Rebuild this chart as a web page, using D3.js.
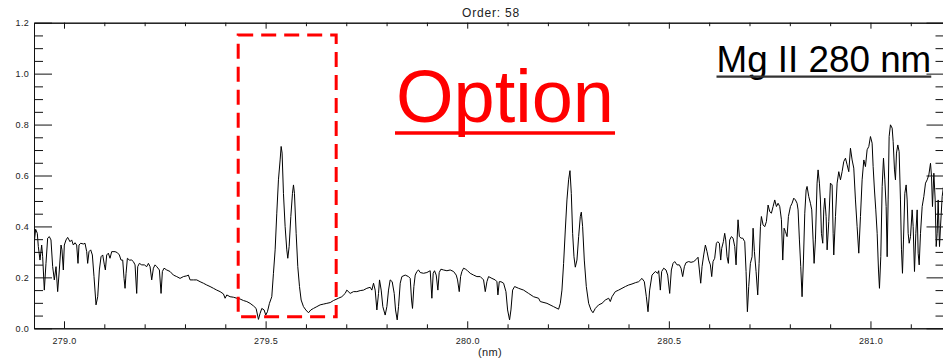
<!DOCTYPE html>
<html>
<head>
<meta charset="utf-8">
<script src="https://cdn.jsdelivr.net/npm/d3@7"></script>
<style>
  html, body { margin: 0; padding: 0; background: #fff; }
  svg { display: block; }
  text { font-family: "Liberation Sans", Arial, Helvetica, sans-serif; }
</style>
</head>
<body>
<svg id="chart" width="943" height="361"></svg>
<script>
// Echelle order 58 around the Mg II h & k lines: wavelength (nm) and relative flux
const wavelength = [
  278.9264, 278.9297, 278.9338, 278.9363, 278.9405, 278.9446, 278.9471, 278.9512, 278.9553, 278.9595,
  278.9636, 278.9677, 278.9719, 278.9760, 278.9802, 278.9843, 278.9884, 278.9926, 278.9950, 278.9983,
  279.0008, 279.0050, 279.0091, 279.0149, 279.0190, 279.0232, 279.0273, 279.0314, 279.0347, 279.0372,
  279.0414, 279.0480, 279.0521, 279.0563, 279.0587, 279.0620, 279.0662, 279.0703, 279.0744, 279.0794,
  279.0836, 279.0877, 279.0918, 279.0960, 279.1001, 279.1026, 279.1059, 279.1100, 279.1141, 279.1183,
  279.1266, 279.1323, 279.1373, 279.1414, 279.1456, 279.1489, 279.1514, 279.1539, 279.1572, 279.1621,
  279.1679, 279.1720, 279.1762, 279.1803, 279.1828, 279.1869, 279.1927, 279.1993, 279.2051, 279.2093,
  279.2134, 279.2175, 279.2217, 279.2258, 279.2300, 279.2366, 279.2407, 279.2440, 279.2481, 279.2548,
  279.2630, 279.2713, 279.2796, 279.2878, 279.2961, 279.3044, 279.3085, 279.3127, 279.3209, 279.3292,
  279.3375, 279.3457, 279.3540, 279.3623, 279.3706, 279.3788, 279.3871, 279.3954, 279.3995, 279.4037,
  279.4119, 279.4202, 279.4285, 279.4367, 279.4450, 279.4533, 279.4615, 279.4698, 279.4764, 279.4822,
  279.4864, 279.4905, 279.4963, 279.5004, 279.5045, 279.5095, 279.5153, 279.5194, 279.5236, 279.5277,
  279.5318, 279.5360, 279.5385, 279.5409, 279.5442, 279.5484, 279.5525, 279.5550, 279.5583, 279.5625,
  279.5666, 279.5691, 279.5715, 279.5757, 279.5798, 279.5840, 279.5881, 279.5939, 279.5997, 279.6063,
  279.6121, 279.6187, 279.6270, 279.6352, 279.6435, 279.6518, 279.6601, 279.6683, 279.6807, 279.6890,
  279.6973, 279.7014, 279.7097, 279.7179, 279.7262, 279.7345, 279.7428, 279.7510, 279.7593, 279.7634,
  279.7676, 279.7717, 279.7759, 279.7800, 279.7825, 279.7866, 279.7907, 279.7965, 279.8007, 279.8048,
  279.8089, 279.8139, 279.8189, 279.8222, 279.8263, 279.8296, 279.8338, 279.8379, 279.8462, 279.8544,
  279.8586, 279.8619, 279.8643, 279.8677, 279.8710, 279.8751, 279.8792, 279.8834, 279.8916, 279.8999,
  279.9082, 279.9123, 279.9156, 279.9189, 279.9231, 279.9272, 279.9305, 279.9347, 279.9413, 279.9496,
  279.9578, 279.9661, 279.9727, 279.9760, 279.9802, 279.9835, 279.9868, 279.9909, 279.9959, 280.0008,
  280.0074, 280.0157, 280.0240, 280.0323, 280.0405, 280.0447, 280.0488, 280.0529, 280.0612, 280.0695,
  280.0736, 280.0761, 280.0794, 280.0836, 280.0902, 280.0960, 280.1001, 280.1050, 280.1084, 280.1125,
  280.1175, 280.1274, 280.1398, 280.1522, 280.1646, 280.1770, 280.1811, 280.1977, 280.2142, 280.2266,
  280.2308, 280.2349, 280.2390, 280.2432, 280.2473, 280.2514, 280.2548, 280.2581, 280.2614, 280.2647,
  280.2680, 280.2721, 280.2763, 280.2804, 280.2829, 280.2862, 280.2903, 280.2953, 280.3011, 280.3069,
  280.3118, 280.3176, 280.3259, 280.3342, 280.3424, 280.3507, 280.3548, 280.3590, 280.3672, 280.3755,
  280.3838, 280.3921, 280.4003, 280.4086, 280.4169, 280.4251, 280.4334, 280.4392, 280.4442, 280.4483,
  280.4524, 280.4582, 280.4665, 280.4723, 280.4748, 280.4789, 280.4822, 280.4872, 280.4930, 280.4971,
  280.5021, 280.5062, 280.5104, 280.5145, 280.5203, 280.5261, 280.5302, 280.5343, 280.5385, 280.5426,
  280.5492, 280.5550, 280.5616, 280.5682, 280.5724, 280.5757, 280.5790, 280.5823, 280.5864, 280.5906,
  280.5947, 280.5988, 280.6030, 280.6063, 280.6096, 280.6137, 280.6179, 280.6212, 280.6253, 280.6286,
  280.6311, 280.6352, 280.6385, 280.6410, 280.6443, 280.6476, 280.6509, 280.6551, 280.6592, 280.6634,
  280.6667, 280.6692, 280.6716, 280.6749, 280.6791, 280.6832, 280.6882, 280.6915, 280.6948, 280.6981,
  280.7022, 280.7064, 280.7089, 280.7122, 280.7163, 280.7204, 280.7238, 280.7271, 280.7295, 280.7337,
  280.7378, 280.7419, 280.7461, 280.7502, 280.7543, 280.7585, 280.7626, 280.7668, 280.7709, 280.7750,
  280.7792, 280.7825, 280.7858, 280.7891, 280.7932, 280.7965, 280.8015, 280.8056, 280.8098, 280.8139,
  280.8180, 280.8205, 280.8238, 280.8271, 280.8304, 280.8338, 280.8371, 280.8404, 280.8428, 280.8470,
  280.8511, 280.8544, 280.8577, 280.8602, 280.8635, 280.8676, 280.8701, 280.8734, 280.8759, 280.8784,
  280.8817, 280.8842, 280.8867, 280.8900, 280.8925, 280.8966, 280.9007, 280.9049, 280.9074, 280.9090,
  280.9132, 280.9173, 280.9214, 280.9256, 280.9297, 280.9338, 280.9380, 280.9421, 280.9462, 280.9504,
  280.9545, 280.9586, 280.9628, 280.9669, 280.9710, 280.9752, 280.9793, 280.9835, 280.9876, 280.9917,
  280.9959, 281.0000, 281.0041, 281.0066, 281.0099, 281.0132, 281.0166, 281.0199, 281.0223, 281.0256,
  281.0290, 281.0323, 281.0356, 281.0389, 281.0414, 281.0438, 281.0463, 281.0496, 281.0538, 281.0563,
  281.0596, 281.0620, 281.0645, 281.0678, 281.0711, 281.0744, 281.0769, 281.0794, 281.0819, 281.0852,
  281.0885, 281.0910, 281.0935, 281.0960, 281.0993, 281.1034, 281.1059, 281.1092, 281.1125, 281.1158,
  281.1183, 281.1208, 281.1241, 281.1282, 281.1323, 281.1365, 281.1406, 281.1447, 281.1489, 281.1514,
  281.1538, 281.1572, 281.1605, 281.1630, 281.1654, 281.1679, 281.1712, 281.1737, 281.1778, 281.1811
];

const flux = [
  0.340, 0.389, 0.373, 0.321, 0.268, 0.327, 0.281, 0.150, 0.255, 0.354,
  0.360, 0.347, 0.242, 0.190, 0.242, 0.144, 0.229, 0.327, 0.308, 0.229,
  0.327, 0.347, 0.357, 0.340, 0.347, 0.327, 0.336, 0.327, 0.255, 0.327,
  0.334, 0.331, 0.334, 0.301, 0.255, 0.301, 0.308, 0.288, 0.203, 0.092,
  0.124, 0.229, 0.281, 0.288, 0.249, 0.229, 0.288, 0.295, 0.275, 0.301,
  0.301, 0.297, 0.288, 0.268, 0.268, 0.196, 0.157, 0.216, 0.275, 0.268,
  0.268, 0.262, 0.249, 0.137, 0.242, 0.255, 0.249, 0.249, 0.242, 0.255,
  0.242, 0.190, 0.236, 0.249, 0.242, 0.229, 0.137, 0.223, 0.236, 0.229,
  0.223, 0.209, 0.203, 0.196, 0.203, 0.206, 0.209, 0.190, 0.190, 0.190,
  0.183, 0.177, 0.170, 0.164, 0.157, 0.150, 0.144, 0.135, 0.118, 0.131,
  0.124, 0.122, 0.118, 0.115, 0.109, 0.105, 0.098, 0.088, 0.078, 0.035,
  0.059, 0.078, 0.072, 0.052, 0.065, 0.098, 0.124, 0.216, 0.308, 0.452,
  0.583, 0.661, 0.714, 0.688, 0.530, 0.399, 0.308, 0.275, 0.321, 0.439,
  0.530, 0.563, 0.530, 0.373, 0.242, 0.164, 0.111, 0.085, 0.072, 0.061,
  0.072, 0.078, 0.085, 0.092, 0.095, 0.098, 0.101, 0.109, 0.118, 0.124,
  0.137, 0.150, 0.137, 0.144, 0.144, 0.148, 0.150, 0.157, 0.161, 0.150,
  0.177, 0.150, 0.072, 0.137, 0.190, 0.150, 0.085, 0.052, 0.085, 0.150,
  0.190, 0.183, 0.137, 0.072, 0.033, 0.085, 0.177, 0.203, 0.209, 0.203,
  0.196, 0.111, 0.078, 0.164, 0.209, 0.223, 0.229, 0.219, 0.216, 0.219,
  0.226, 0.118, 0.216, 0.226, 0.209, 0.150, 0.219, 0.232, 0.229, 0.226,
  0.229, 0.223, 0.209, 0.190, 0.144, 0.203, 0.223, 0.236, 0.232, 0.226,
  0.216, 0.209, 0.203, 0.203, 0.190, 0.144, 0.183, 0.203, 0.196, 0.190,
  0.183, 0.131, 0.183, 0.183, 0.177, 0.144, 0.072, 0.033, 0.072, 0.150,
  0.164, 0.157, 0.150, 0.137, 0.124, 0.118, 0.105, 0.098, 0.085, 0.075,
  0.098, 0.150, 0.255, 0.386, 0.504, 0.583, 0.619, 0.530, 0.373, 0.281,
  0.240, 0.268, 0.360, 0.439, 0.456, 0.399, 0.268, 0.164, 0.098, 0.072,
  0.061, 0.078, 0.092, 0.098, 0.111, 0.118, 0.105, 0.124, 0.144, 0.150,
  0.157, 0.164, 0.170, 0.174, 0.179, 0.183, 0.196, 0.183, 0.124, 0.065,
  0.150, 0.209, 0.223, 0.216, 0.226, 0.150, 0.223, 0.236, 0.229, 0.209,
  0.137, 0.229, 0.255, 0.262, 0.249, 0.249, 0.236, 0.203, 0.242, 0.258,
  0.262, 0.259, 0.262, 0.271, 0.279, 0.229, 0.177, 0.242, 0.288, 0.327,
  0.301, 0.268, 0.249, 0.203, 0.262, 0.275, 0.334, 0.340, 0.334, 0.268,
  0.314, 0.340, 0.373, 0.347, 0.281, 0.255, 0.347, 0.360, 0.354, 0.321,
  0.249, 0.347, 0.426, 0.360, 0.354, 0.354, 0.340, 0.223, 0.065, 0.164,
  0.255, 0.281, 0.393, 0.301, 0.223, 0.131, 0.255, 0.399, 0.439, 0.406,
  0.399, 0.419, 0.484, 0.458, 0.452, 0.478, 0.504, 0.478, 0.491, 0.478,
  0.426, 0.268, 0.393, 0.380, 0.360, 0.439, 0.478, 0.491, 0.511, 0.504,
  0.491, 0.465, 0.347, 0.242, 0.124, 0.268, 0.452, 0.543, 0.557, 0.517,
  0.491, 0.465, 0.347, 0.255, 0.347, 0.570, 0.622, 0.570, 0.504, 0.373,
  0.334, 0.465, 0.511, 0.439, 0.308, 0.419, 0.570, 0.563, 0.373, 0.288,
  0.439, 0.570, 0.615, 0.583, 0.615, 0.655, 0.668, 0.642, 0.615, 0.707,
  0.661, 0.629, 0.504, 0.399, 0.295, 0.439, 0.583, 0.661, 0.635, 0.701,
  0.714, 0.753, 0.727, 0.635, 0.543, 0.465, 0.373, 0.229, 0.157, 0.281,
  0.557, 0.668, 0.583, 0.478, 0.281, 0.504, 0.753, 0.799, 0.786, 0.733,
  0.622, 0.583, 0.688, 0.720, 0.694, 0.504, 0.308, 0.216, 0.347, 0.530,
  0.563, 0.504, 0.373, 0.334, 0.360, 0.465, 0.399, 0.223, 0.373, 0.465,
  0.295, 0.249, 0.373, 0.478, 0.517, 0.570, 0.583, 0.602, 0.648, 0.596,
  0.478, 0.609, 0.504, 0.321, 0.373, 0.504, 0.321, 0.399, 0.517, 0.557
];

// Axis ranges and tick values
const xDomain = [278.9256, 281.1836];
const yDomain = [0, 1.2];
const xTickValues = [279.0, 279.5, 280.0, 280.5, 281.0];
const xTickLabels = ["279.0", "279.5", "280.0", "280.5", "281.0"];
const yTickValues = [0.0, 0.2, 0.4, 0.6, 0.8, 1.0, 1.2];
const yTickLabels = ["0.0", "0.2", "0.4", "0.6", "0.8", "1.0", "1.2"];
const xMinorStep = 0.1;
const yMinorStep = 0.05;

// Highlight box around the Mg II k and h emission cores
const boxWavelength = [279.432, 279.675];
const boxFlux = [0.045, 1.152];

const titleText = "Order: 58";
const xAxisTitle = "(nm)";
const highlightText = "Option";
const lineLabelText = "Mg II 280 nm";

// Layout
const svg = d3.select("#chart");
const plot = { left: 34, right: 944.5, top: 22.7, bottom: 328.3 };

const x = d3.scaleLinear().domain(xDomain).range([plot.left, plot.right]);
const y = d3.scaleLinear().domain(yDomain).range([plot.bottom, plot.top]);

const axisColor = "#111";
const labelColor = "#222";

const xMinor = d3.range(279.0, 281.2, xMinorStep)
  .map(v => +v.toFixed(2))
  .filter(v => v >= xDomain[0] && v <= xDomain[1] && !xTickValues.some(t => Math.abs(t - v) < 1e-6));
const yMinor = d3.range(0, 1.2001, yMinorStep)
  .map(v => +v.toFixed(2))
  .filter(v => !yTickValues.some(t => Math.abs(t - v) < 1e-6));

function styleAxis(g) {
  g.selectAll("path.domain").attr("stroke", axisColor).attr("stroke-width", 1);
  g.selectAll(".tick line").attr("stroke", axisColor).attr("stroke-width", 1);
  g.selectAll(".tick text")
    .attr("fill", labelColor)
    .style("font-family", "'Liberation Sans', Arial, sans-serif")
    .style("font-size", "9px")
    .style("letter-spacing", "0.3px");
}

// Clip for the spectrum
svg.append("defs").append("clipPath").attr("id", "plotClip")
  .append("rect")
  .attr("x", plot.left).attr("y", plot.top)
  .attr("width", plot.right - plot.left).attr("height", plot.bottom - plot.top);

// Spectrum
const points = wavelength.map((w, i) => [w, flux[i]]);
const line = d3.line().x(d => x(d[0])).y(d => y(d[1]));
svg.append("path")
  .datum(points)
  .attr("clip-path", "url(#plotClip)")
  .attr("fill", "none")
  .attr("stroke", "#000")
  .attr("stroke-width", 1)
  .attr("stroke-linejoin", "round")
  .attr("d", line);

// Bottom axis (major ticks with labels, minor ticks)
const gBottom = svg.append("g").attr("transform", `translate(0,${plot.bottom})`)
  .call(d3.axisBottom(x).tickValues(xTickValues)
    .tickFormat((d, i) => xTickLabels[i])
    .tickSizeInner(-7).tickSizeOuter(0).tickPadding(9.5));
styleAxis(gBottom);
const gBottomMinor = svg.append("g").attr("transform", `translate(0,${plot.bottom})`)
  .call(d3.axisBottom(x).tickValues(xMinor).tickFormat("").tickSizeInner(-4).tickSizeOuter(0));
styleAxis(gBottomMinor);

// Top axis (ticks only)
const gTop = svg.append("g").attr("transform", `translate(0,${plot.top})`)
  .call(d3.axisTop(x).tickValues(xTickValues).tickFormat("").tickSizeInner(-6).tickSizeOuter(0));
styleAxis(gTop);
const gTopMinor = svg.append("g").attr("transform", `translate(0,${plot.top})`)
  .call(d3.axisTop(x).tickValues(xMinor).tickFormat("").tickSizeInner(-3.5).tickSizeOuter(0));
styleAxis(gTopMinor);

// Left axis
const gLeft = svg.append("g").attr("transform", `translate(${plot.left},0)`)
  .call(d3.axisLeft(y).tickValues(yTickValues)
    .tickFormat((d, i) => yTickLabels[i])
    .tickSizeInner(-18).tickSizeOuter(0).tickPadding(5));
styleAxis(gLeft);
const gLeftMinor = svg.append("g").attr("transform", `translate(${plot.left},0)`)
  .call(d3.axisLeft(y).tickValues(yMinor).tickFormat("").tickSizeInner(-9).tickSizeOuter(0));
styleAxis(gLeftMinor);

// Right axis (ticks only)
const gRight = svg.append("g").attr("transform", `translate(${plot.right},0)`)
  .call(d3.axisRight(y).tickValues(yTickValues).tickFormat("").tickSizeInner(-18).tickSizeOuter(0));
styleAxis(gRight);
const gRightMinor = svg.append("g").attr("transform", `translate(${plot.right},0)`)
  .call(d3.axisRight(y).tickValues(yMinor).tickFormat("").tickSizeInner(-9).tickSizeOuter(0));
styleAxis(gRightMinor);

// Title and axis title
svg.append("text")
  .attr("x", 491).attr("y", 17)
  .attr("text-anchor", "middle")
  .attr("fill", labelColor)
  .style("font-size", "12px")
  .style("letter-spacing", "0.8px")
  .text(titleText);

svg.append("text")
  .attr("x", 490).attr("y", 355.5)
  .attr("text-anchor", "middle")
  .attr("fill", labelColor)
  .style("font-size", "11px")
  .style("letter-spacing", "0.4px")
  .text(xAxisTitle);

// Dashed highlight box
svg.append("rect")
  .attr("x", x(boxWavelength[0]))
  .attr("y", y(boxFlux[1]))
  .attr("width", x(boxWavelength[1]) - x(boxWavelength[0]))
  .attr("height", y(boxFlux[0]) - y(boxFlux[1]))
  .attr("fill", "none")
  .attr("stroke", "#ff0000")
  .attr("stroke-width", 3)
  .attr("stroke-dasharray", "15,8");

// "Option" label, underlined
const opt = svg.append("text")
  .attr("x", 396).attr("y", 121.5)
  .attr("fill", "#ff0000")
  .style("font-size", "74px")
  .text(highlightText);
const optBox = opt.node().getBBox();
svg.append("line")
  .attr("x1", optBox.x - 1).attr("x2", optBox.x + optBox.width + 1)
  .attr("y1", 133).attr("y2", 133)
  .attr("stroke", "#ff0000").attr("stroke-width", 3.5);

// "Mg II 280 nm" label, underlined
const mg = svg.append("text")
  .attr("x", 716.5).attr("y", 71.5)
  .attr("fill", "#000")
  .style("font-size", "36.8px")
  .text(lineLabelText);
const mgBox = mg.node().getBBox();
svg.append("line")
  .attr("x1", mgBox.x).attr("x2", mgBox.x + mgBox.width)
  .attr("y1", 76.7).attr("y2", 76.7)
  .attr("stroke", "#333").attr("stroke-width", 2.2);
</script>
</body>
</html>
